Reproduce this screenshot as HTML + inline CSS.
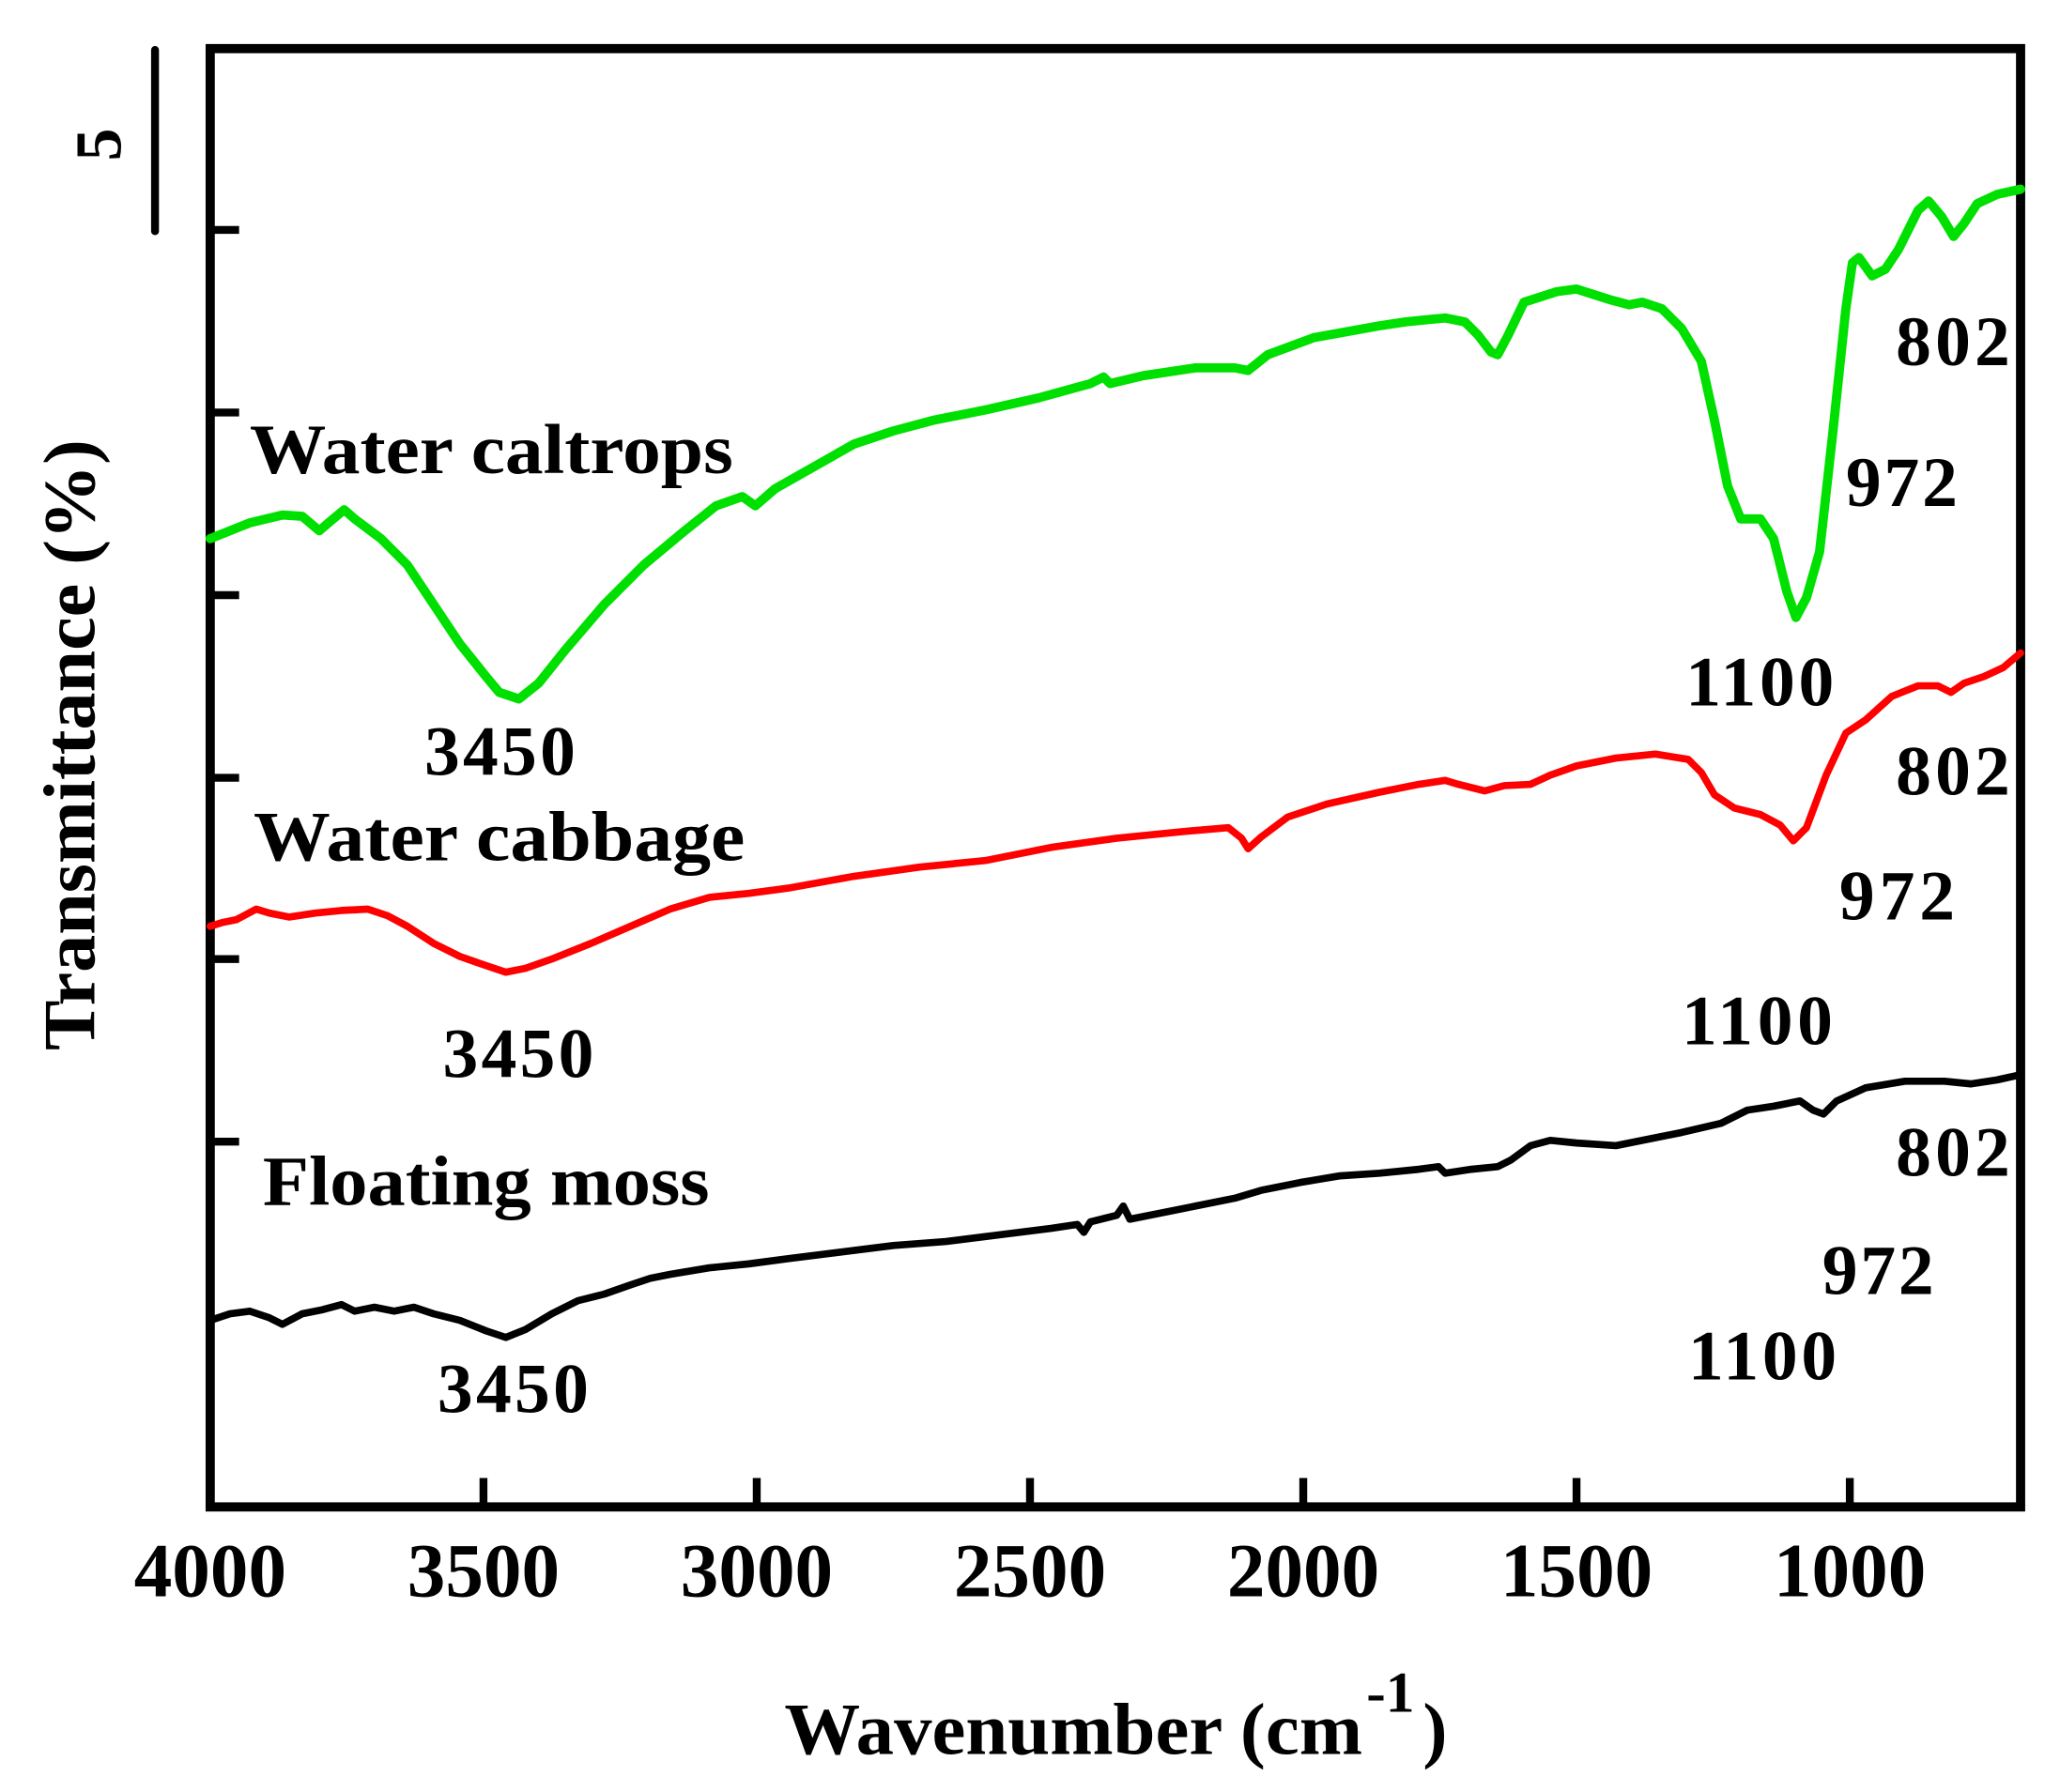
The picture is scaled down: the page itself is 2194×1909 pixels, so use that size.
<!DOCTYPE html>
<html><head><meta charset="utf-8"><style>
html,body{margin:0;padding:0;background:#fff;}
svg{display:block;}
text{font-family:"Liberation Serif",serif;font-weight:bold;fill:#000;}
</style></head><body>
<svg width="2194" height="1909" viewBox="0 0 1568 1364" preserveAspectRatio="none" xmlns="http://www.w3.org/2000/svg">
<rect width="1568" height="1364" fill="#fff"/>
<rect x="160" y="37" width="1378" height="1110" fill="none" stroke="#000" stroke-width="7"/>
<line x1="118" y1="38" x2="118" y2="176" stroke="#000" stroke-width="6" stroke-linecap="round"/>
<text transform="translate(92,110) rotate(-90)" font-size="50" text-anchor="middle">5</text>
<g stroke="#000" stroke-width="6">
<line x1="160" y1="175" x2="182" y2="175"/>
<line x1="160" y1="314" x2="182" y2="314"/>
<line x1="160" y1="453" x2="182" y2="453"/>
<line x1="160" y1="592" x2="182" y2="592"/>
<line x1="160" y1="730" x2="182" y2="730"/>
<line x1="160" y1="869" x2="182" y2="869"/>
<line x1="368" y1="1147" x2="368" y2="1125"/>
<line x1="576" y1="1147" x2="576" y2="1125"/>
<line x1="784" y1="1147" x2="784" y2="1125"/>
<line x1="992" y1="1147" x2="992" y2="1125"/>
<line x1="1200" y1="1147" x2="1200" y2="1125"/>
<line x1="1408" y1="1147" x2="1408" y2="1125"/>
</g>
<g font-size="58" text-anchor="middle">
<text x="160" y="1215">4000</text>
<text x="368" y="1215">3500</text>
<text x="576" y="1215">3000</text>
<text x="784" y="1215">2500</text>
<text x="992" y="1215">2000</text>
<text x="1200" y="1215">1500</text>
<text x="1408" y="1215">1000</text>
</g>
<text x="597" y="1335" font-size="56" textLength="440" lengthAdjust="spacingAndGlyphs">Wavenumber (cm</text>
<text x="1040" y="1303" font-size="44">-1</text>
<text x="1083" y="1335" font-size="56">)</text>
<text transform="translate(72,567) rotate(-90)" font-size="56" text-anchor="middle" textLength="465" lengthAdjust="spacingAndGlyphs">Transmittance (%)</text>

<polyline fill="none" stroke="#00e000" stroke-width="7" stroke-linejoin="round" stroke-linecap="round" points="160,410 190,398 215,392 230,393 243,404 250,398 262,388 270,395 290,410 310,430 330,460 350,490 370,515 380,527 395,532 410,520 430,495 460,460 490,430 520,405 545,385 565,378 575,385 590,372 620,355 650,338 680,328 710,320 750,312 790,303 830,292 840,287 845,292 870,286 910,280 940,280 950,282 965,270 1000,257 1050,248 1070,245 1100,242 1115,245 1125,255 1135,268 1140,270 1148,255 1160,230 1185,222 1200,220 1225,228 1240,232 1250,230 1265,235 1280,250 1295,275 1305,320 1315,370 1325,395 1340,395 1350,410 1360,450 1367,470 1375,455 1385,420 1395,330 1405,235 1410,200 1415,196 1425,210 1435,205 1445,190 1460,160 1468,153 1478,165 1487,180 1495,170 1505,155 1520,148 1538,144"/>
<polyline fill="none" stroke="#ff0000" stroke-width="5.5" stroke-linejoin="round" stroke-linecap="round" points="160,705 170,702 180,700 195,692 205,695 220,698 240,695 260,693 280,692 295,697 310,705 330,718 350,728 370,735 385,740 400,737 420,730 450,718 480,705 510,692 540,683 570,680 600,676 650,667 700,660 750,655 800,645 850,638 900,633 935,630 945,638 950,646 960,637 980,622 1010,612 1050,603 1080,597 1100,594 1110,597 1130,602 1145,598 1165,597 1180,590 1200,583 1230,577 1260,574 1285,578 1295,588 1305,605 1320,615 1340,620 1355,628 1365,640 1375,630 1390,590 1405,558 1420,548 1440,530 1460,522 1475,522 1485,527 1495,520 1510,515 1525,508 1538,497"/>
<polyline fill="none" stroke="#000" stroke-width="5.5" stroke-linejoin="round" stroke-linecap="round" points="160,1005 175,1000 190,998 205,1003 215,1008 230,1000 245,997 260,993 270,998 285,995 300,998 315,995 330,1000 350,1005 370,1013 385,1018 400,1012 420,1000 440,990 460,985 480,978 495,973 510,970 540,965 570,962 600,958 640,953 680,948 720,945 760,940 800,935 820,932 825,938 830,930 850,925 855,918 860,928 900,920 940,912 960,906 990,900 1020,895 1050,893 1080,890 1095,888 1100,893 1120,890 1140,888 1150,883 1165,872 1180,868 1200,870 1230,872 1250,868 1280,862 1310,855 1330,845 1350,842 1370,838 1380,845 1388,848 1398,838 1420,828 1450,823 1480,823 1500,825 1520,822 1538,818"/>

<g font-size="54">
<text x="190" y="360" textLength="368" lengthAdjust="spacingAndGlyphs">Water caltrops</text>
<text x="193" y="655" textLength="374" lengthAdjust="spacingAndGlyphs">Water cabbage</text>
<text x="200" y="917" textLength="340" lengthAdjust="spacingAndGlyphs">Floating moss</text>
</g>
<g font-size="54">
<text x="323" y="590" textLength="115">3450</text>
<text x="337" y="820" textLength="115">3450</text>
<text x="333" y="1075" textLength="115">3450</text>
<text x="1283" y="537" textLength="113">1100</text>
<text x="1280" y="795" textLength="115">1100</text>
<text x="1285" y="1050" textLength="113">1100</text>
<text x="1405" y="385" textLength="85">972</text>
<text x="1400" y="700" textLength="88">972</text>
<text x="1387" y="985" textLength="85">972</text>
<text x="1443" y="278" textLength="87">802</text>
<text x="1443" y="605" textLength="87">802</text>
<text x="1443" y="895" textLength="87">802</text>
</g>
</svg>
</body></html>
